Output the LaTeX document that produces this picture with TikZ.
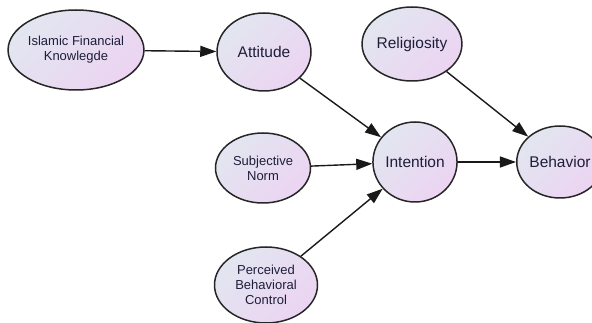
\documentclass[tikz,border=0pt]{standalone}
\usepackage{fontspec}
\setmainfont{Liberation Sans}
\usetikzlibrary{shapes.geometric,arrows.meta}
\definecolor{fillA}{HTML}{E2E6F0}
\definecolor{fillB}{HTML}{ECD4F2}
\definecolor{txt}{HTML}{1E1E3A}
\tikzset{
  var/.style={ellipse, draw=black!85, line width=1.5pt, left color=fillA, right color=fillB, shading angle=45, inner sep=0pt, align=center, text=txt},
  big/.style={font=\fontsize{15.5}{17}\selectfont},
  small/.style={font=\fontsize{13}{15}\selectfont},
  arr/.style={-{Triangle[length=16pt,width=11pt]}, line width=1.4pt, draw=black!90}
}
\begin{document}
\begin{tikzpicture}[x=1pt,y=-1pt]
\useasboundingbox (0,0) rectangle (592,323);
\clip (0,0) rectangle (592,323);
\node[var,small,minimum width=132pt,minimum height=80pt] (ifk) at (76,50) {Islamic Financial\\Knowlegde};
\node[var,big,minimum width=94pt,minimum height=78pt] (att) at (264,52) {Attitude};
\node[var,big,minimum width=87pt,minimum height=74pt] (rel) at (412,44) {Religiosity};
\node[var,small,minimum width=95pt,minimum height=70pt] (sn) at (263,168) {Subjective\\Norm};
\node[var,big,minimum width=84pt,minimum height=80pt] (int) at (415,162) {Intention};
\node[var,big,minimum width=86pt,minimum height=72pt] (beh) at (560,162) {Behavior};
\node[var,small,minimum width=103pt,minimum height=76pt] (pbc) at (266,285) {Perceived\\Behavioral\\Control};
\draw[arr] (ifk) -- (att);
\draw[arr] (att) -- (int);
\draw[arr] (sn) -- (int);
\draw[arr] (pbc) -- (int);
\draw[arr] (int) -- (beh);
\draw[arr] (rel) -- (beh);
\end{tikzpicture}
\end{document}
